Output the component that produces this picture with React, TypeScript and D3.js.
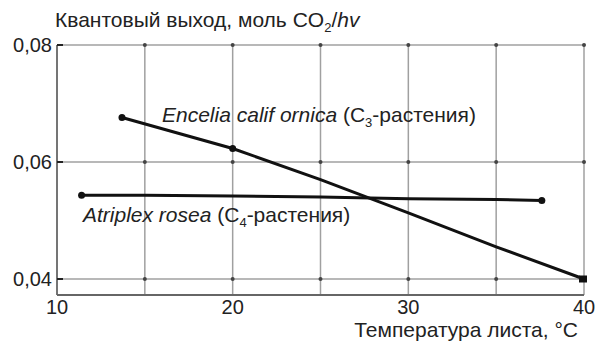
import * as d3 from "d3";

// Encelia californica (C3) — temperature, quantum yield
const enceliaTemp = [13.7, 20, 25, 30, 35, 40];
const enceliaYield = [0.0676, 0.0623, 0.057, 0.0513, 0.0455, 0.04];

// Atriplex rosea (C4)
const atriplexTemp = [11.4, 15, 20, 25, 30, 35, 37.6];
const atriplexYield = [0.0543, 0.0543, 0.0542, 0.054, 0.0537, 0.0536, 0.0534];

const xTicks = [10, 20, 30, 40];
const xGrid = [15, 20, 25, 30, 35, 40];
const yTicks = [0.04, 0.06, 0.08];

const width = 598;
const height = 342;
const left = 57;
const right = 584;
const top = 45;
const axisY = 295;

const font = "'Liberation Sans', Arial, sans-serif";
const fs = 21;

export default function App() {
  const x = d3.scaleLinear().domain([10, 40]).range([left, right]);
  const y = d3.scaleLinear().domain([0.04, 0.08]).range([279, top]);

  const line = d3
    .line<[number, number]>()
    .x(d => x(d[0]))
    .y(d => y(d[1]));

  const encelia = enceliaTemp.map((t, i) => [t, enceliaYield[i]] as [number, number]);
  const atriplex = atriplexTemp.map((t, i) => [t, atriplexYield[i]] as [number, number]);

  const fmt = (v: number) => d3.format(".2f")(v).replace(".", ",");

  return (
    <svg
      width={width}
      height={height}
      style={{ position: "absolute", left: 0, top: 0, background: "#fff" }}
      fontFamily={font}
    >
      {/* grid */}
      {xGrid.map(t => (
        <line key={"vx" + t} x1={x(t)} x2={x(t)} y1={top} y2={axisY} stroke="#a0a0a0" strokeWidth={1.5} />
      ))}
      {yTicks.map(t => (
        <line key={"hy" + t} x1={left} x2={right} y1={y(t)} y2={y(t)} stroke="#a0a0a0" strokeWidth={1.5} />
      ))}
      {xGrid.flatMap(t =>
        yTicks.map(v => <circle key={"d" + t + v} cx={x(t)} cy={y(v)} r={2} fill="#444" />)
      )}

      {/* axes */}
      <line x1={left} x2={left} y1={top} y2={axisY} stroke="#666" strokeWidth={1.8} />
      <line x1={left} x2={right} y1={axisY} y2={axisY} stroke="#666" strokeWidth={1.8} />
      {yTicks.map(t => (
        <line key={"yt" + t} x1={left} x2={left + 6} y1={y(t)} y2={y(t)} stroke="#222" strokeWidth={2} />
      ))}

      {/* tick labels */}
      {yTicks.map(t => (
        <text key={"yl" + t} x={52} y={y(t) + 7} textAnchor="end" fontSize={20} fill="#222">
          {fmt(t)}
        </text>
      ))}
      {xTicks.map(t => (
        <text key={"xl" + t} x={x(t)} y={314} textAnchor="middle" fontSize={20} fill="#222">
          {t}
        </text>
      ))}

      {/* axis titles */}
      <text x={55} y={27} fontSize={fs} fill="#222">
        Квантовый выход, моль CO<tspan fontSize={13} dy={5}>2</tspan>
        <tspan dy={-5}>/</tspan>
        <tspan fontStyle="italic">hv</tspan>
      </text>
      <text x={578} y={337} textAnchor="end" fontSize={fs} fill="#222">
        Температура листа, °C
      </text>

      {/* series */}
      <path d={line(atriplex) ?? ""} fill="none" stroke="#111" strokeWidth={3} />
      <path d={line(encelia) ?? ""} fill="none" stroke="#111" strokeWidth={3} />
      {[atriplex[0], atriplex[atriplex.length - 1], encelia[0], encelia[1]].map((d, i) => (
        <circle key={"m" + i} cx={x(d[0])} cy={y(d[1])} r={3.5} fill="#111" />
      ))}
      <rect
        x={x(encelia[encelia.length - 1][0]) - 5}
        y={y(encelia[encelia.length - 1][1]) - 3.5}
        width={8}
        height={7}
        fill="#111"
      />

      {/* series labels */}
      <text x={162} y={122} fontSize={fs} fill="#222">
        <tspan fontStyle="italic">Encelia calif ornica</tspan> (C
        <tspan fontSize={13} dy={5}>3</tspan>
        <tspan dy={-5}>-растения)</tspan>
      </text>
      <text x={83} y={222} fontSize={fs} fill="#222">
        <tspan fontStyle="italic">Atriplex rosea</tspan> (C
        <tspan fontSize={13} dy={5}>4</tspan>
        <tspan dy={-5}>-растения)</tspan>
      </text>
    </svg>
  );
}
